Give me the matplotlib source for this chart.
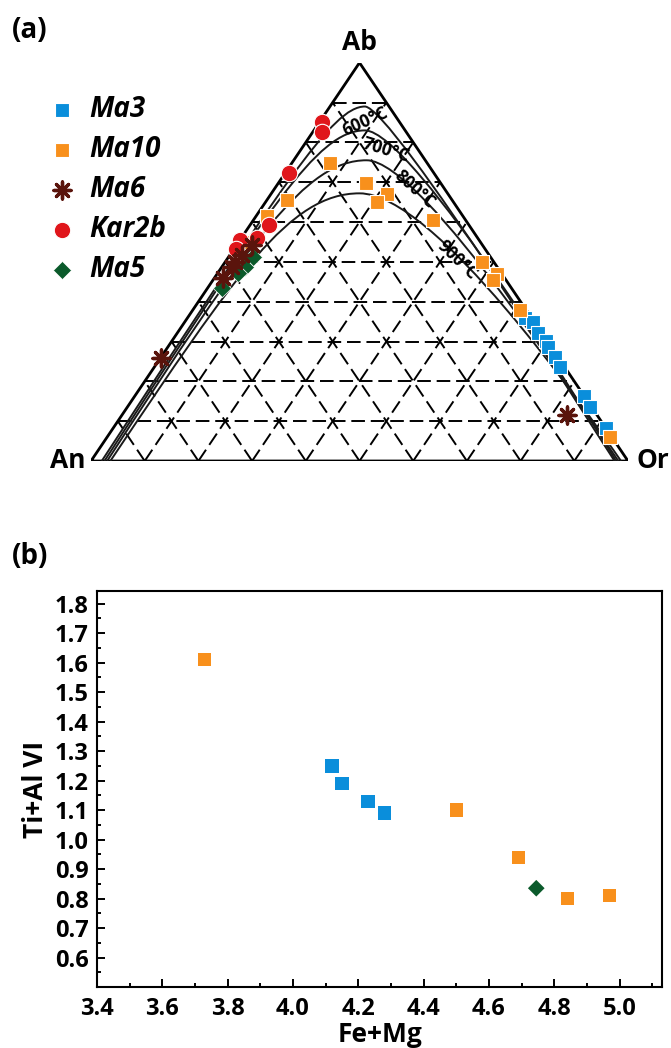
import numpy as np
import matplotlib.pyplot as plt
from matplotlib.path import Path
from matplotlib.patches import PathPatch
from matplotlib.ticker import MultipleLocator

plt.rcParams['font.family'] = ['Open Sans', 'DejaVu Sans']
plt.rcParams['font.weight'] = 'bold'

# feldspar compositions (mol %): An, Ab, Or
ma3_an = [1.2, 0.2, 0.7, 0.2, 0.6, 0.5, 0.9, 0.0, 0.3, 0.0]
ma3_ab = [35.9, 34.8, 32.1, 30.2, 28.6, 26.1, 23.6, 16.3, 13.6, 8.3]
ma3_or = [62.9, 65.0, 67.2, 69.6, 70.8, 73.4, 75.5, 83.7, 86.1, 91.7]

ma10_an = [18.1, 13.9, 11.4, 14.2, 6.1, 30.8, 36.5, 43.8, 2.2, 0.9, 2.4, 1.2, 0.4]
ma10_ab = [74.8, 69.8, 67.0, 65.0, 60.5, 65.5, 61.5, 55.0, 50.0, 47.0, 45.4, 37.9, 6.0]
ma10_or = [7.1, 16.3, 21.6, 20.8, 33.4, 3.7, 2.0, 1.2, 47.8, 52.1, 52.1, 60.9, 93.6]

ma6_an = [42.9, 46.0, 48.2, 49.4, 52.4, 74.1, 5.6]
ma6_ab = [54.2, 51.7, 50.0, 48.7, 45.9, 25.9, 11.5]
ma6_or = [2.9, 2.3, 1.8, 1.9, 1.6, 0.0, 82.9]

kar2b_an = [14.5, 15.7, 27.0, 37.2, 41.1, 44.5, 46.4]
kar2b_ab = [85.1, 82.6, 72.3, 59.3, 56.0, 55.5, 53.2]
kar2b_or = [0.4, 1.7, 0.7, 3.5, 2.9, 0.0, 0.4]

ma5_an = [44.2, 47.0, 49.0, 53.9]
ma5_ab = [51.2, 48.7, 47.2, 43.4]
ma5_or = [4.6, 4.3, 3.8, 2.7]

# biotite: Fe+Mg vs Ti+Al(VI)
ma3_femg = [4.12, 4.15, 4.23, 4.28]
ma3_tial = [1.25, 1.19, 1.13, 1.09]
ma10_femg = [3.73, 4.50, 4.69, 4.84, 4.97]
ma10_tial = [1.61, 1.10, 0.94, 0.80, 0.81]
ma5_femg = [4.745]
ma5_tial = [0.835]

solvus_temps = ['600°C', '700°C', '800°C', '900°C']

c_ma3 = '#0a8edb'
c_ma10 = '#f8901c'
c_ma6 = '#5a140c'
c_kar = '#e0161b'
c_ma5 = '#0b5a2b'


def tern(an, ab, orr):
    an, ab, orr = np.asarray(an, float), np.asarray(ab, float), np.asarray(orr, float)
    tot = an + ab + orr
    ab = ab / tot
    orr = orr / tot
    return orr + ab / 2.0, ab


W, H = 671, 1048
fig = plt.figure(figsize=(W / 100.0, H / 100.0), dpi=100)

# ---- (a) ternary feldspar diagram ----
ax = fig.add_axes([91.0 / W, 1 - 461.0 / H, 537.0 / W, 398.3 / H])
ax.set_xlim(0, 1)
ax.set_ylim(0, 1)
ax.axis('off')

dash = dict(color='black', lw=1.4, ls=(0, (7, 3)), zorder=1)
for k in range(1, 10):
    f = k / 10.0
    ax.plot([f / 2, 1 - f / 2], [f, f], **dash)              # constant Ab
    ax.plot([f, f + (1 - f) / 2], [0, 1 - f], **dash)        # constant Or
    ax.plot([1 - f, (1 - f) / 2], [0, 1 - f], **dash)        # constant An

ax.plot([0, 1, 0.5, 0], [0, 0, 1, 0], color='black', lw=2.0, zorder=2,
        solid_joinstyle='miter')

# solvus isotherms as two cubic bezier pieces (An side, Or side)
solvus = [
    [(0.020, 0), (0.36, 0.70), (0.45, 0.89), (0.51, 0.89), (0.56, 0.89), (0.95, 0.05), (0.975, 0)],
    [(0.025, 0), (0.33, 0.63), (0.42, 0.83), (0.51, 0.83), (0.60, 0.83), (0.94, 0.08), (0.978, 0)],
    [(0.030, 0), (0.30, 0.56), (0.40, 0.755), (0.513, 0.755), (0.62, 0.755), (0.93, 0.10), (0.982, 0)],
    [(0.036, 0), (0.27, 0.47), (0.37, 0.672), (0.50, 0.672), (0.64, 0.672), (0.92, 0.13), (0.987, 0)],
]
codes = [Path.MOVETO] + [Path.CURVE4] * 6
for pts in solvus:
    ax.add_patch(PathPatch(Path(pts, codes), fill=False, ec='#1a1a1a', lw=1.4, zorder=3))

label_pos = [(0.510, 0.853, 24), (0.549, 0.781, -17), (0.603, 0.683, -42), (0.683, 0.505, -44)]
for t, (u, v, r) in zip(solvus_temps, label_pos):
    ax.text(u, v, t, rotation=r, ha='center', va='center', fontsize=12.5,
            fontweight='bold', zorder=4)

ax.text(0.5, 1.05, 'Ab', ha='center', va='center', fontsize=19, fontweight='bold')
ax.text(-0.043, 0.0, 'An', ha='center', va='center', fontsize=19, fontweight='bold')
ax.text(1.046, 0.0, 'Or', ha='center', va='center', fontsize=19, fontweight='bold')

h_ma3 = ax.scatter(*tern(ma3_an, ma3_ab, ma3_or), marker='s', s=105, c=c_ma3,
                   edgecolors='white', linewidths=0.8, zorder=5, label='Ma3', clip_on=False)
h_ma10 = ax.scatter(*tern(ma10_an, ma10_ab, ma10_or), marker='s', s=105, c=c_ma10,
                    edgecolors='white', linewidths=0.8, zorder=6, label='Ma10', clip_on=False)
h_kar = ax.scatter(*tern(kar2b_an, kar2b_ab, kar2b_or), marker='o', s=140, c=c_kar,
                   edgecolors='white', linewidths=0.8, zorder=7, label='Kar2b', clip_on=False)
h_ma5 = ax.scatter(*tern(ma5_an, ma5_ab, ma5_or), marker='D', s=85, c=c_ma5,
                   edgecolors='white', linewidths=0.5, zorder=8, label='Ma5', clip_on=False)
h_ma6 = ax.scatter(*tern(ma6_an, ma6_ab, ma6_or), marker=(8, 2, 0), s=150, c=c_ma6,
                   linewidths=2.4, zorder=9, label='Ma6', clip_on=False)

leg = ax.legend(handles=[h_ma3, h_ma10, h_ma6, h_kar, h_ma5], loc='upper left',
                bbox_to_anchor=(48.0 / W, 1 - 95.0 / H), bbox_transform=fig.transFigure,
                frameon=False, handlelength=1.0, handletextpad=0.5, labelspacing=0.40,
                borderaxespad=0, borderpad=0, prop={'size': 20, 'style': 'italic',
                                                    'weight': 'bold'})

fig.text(12.0 / W, 1 - 30.0 / H, '(a)', ha='left', va='center', fontsize=20, fontweight='bold')
fig.text(12.0 / W, 1 - 556.0 / H, '(b)', ha='left', va='center', fontsize=20, fontweight='bold')

# ---- (b) Fe+Mg vs Ti+Al VI ----
bx = fig.add_axes([97.0 / W, 1 - 987.0 / H, 565.0 / W, 396.0 / H])
bx.scatter(ma3_femg, ma3_tial, marker='s', s=92, c=c_ma3, edgecolors='none', zorder=3)
bx.scatter(ma10_femg, ma10_tial, marker='s', s=92, c=c_ma10, edgecolors='none', zorder=3)
bx.scatter(ma5_femg, ma5_tial, marker='D', s=72, c=c_ma5, edgecolors='none', zorder=3)

bx.set_xlim(3.4, 5.13)
bx.set_ylim(0.5, 1.843)
bx.xaxis.set_minor_locator(MultipleLocator(0.1))
bx.yaxis.set_minor_locator(MultipleLocator(0.05))
bx.set_yticks(np.arange(0.6, 1.81, 0.1))
bx.set_xticks(np.arange(3.4, 5.01, 0.2))
bx.xaxis.set_major_formatter(plt.FormatStrFormatter('%.1f'))
bx.yaxis.set_major_formatter(plt.FormatStrFormatter('%.1f'))
bx.tick_params(which='both', direction='in', width=1.4, labelsize=17)
bx.tick_params(which='major', length=6)
bx.tick_params(which='minor', length=3)
bx.tick_params(axis='x', pad=7)
bx.tick_params(axis='y', pad=6)
for lab in bx.get_xticklabels() + bx.get_yticklabels():
    lab.set_fontweight('bold')
for sp in bx.spines.values():
    sp.set_linewidth(1.5)
bx.set_xlabel('Fe+Mg', fontsize=19, fontweight='bold', labelpad=0)
bx.set_ylabel('Ti+Al VI', fontsize=19, fontweight='bold', labelpad=4)

fig.savefig('out.png', dpi=100)
